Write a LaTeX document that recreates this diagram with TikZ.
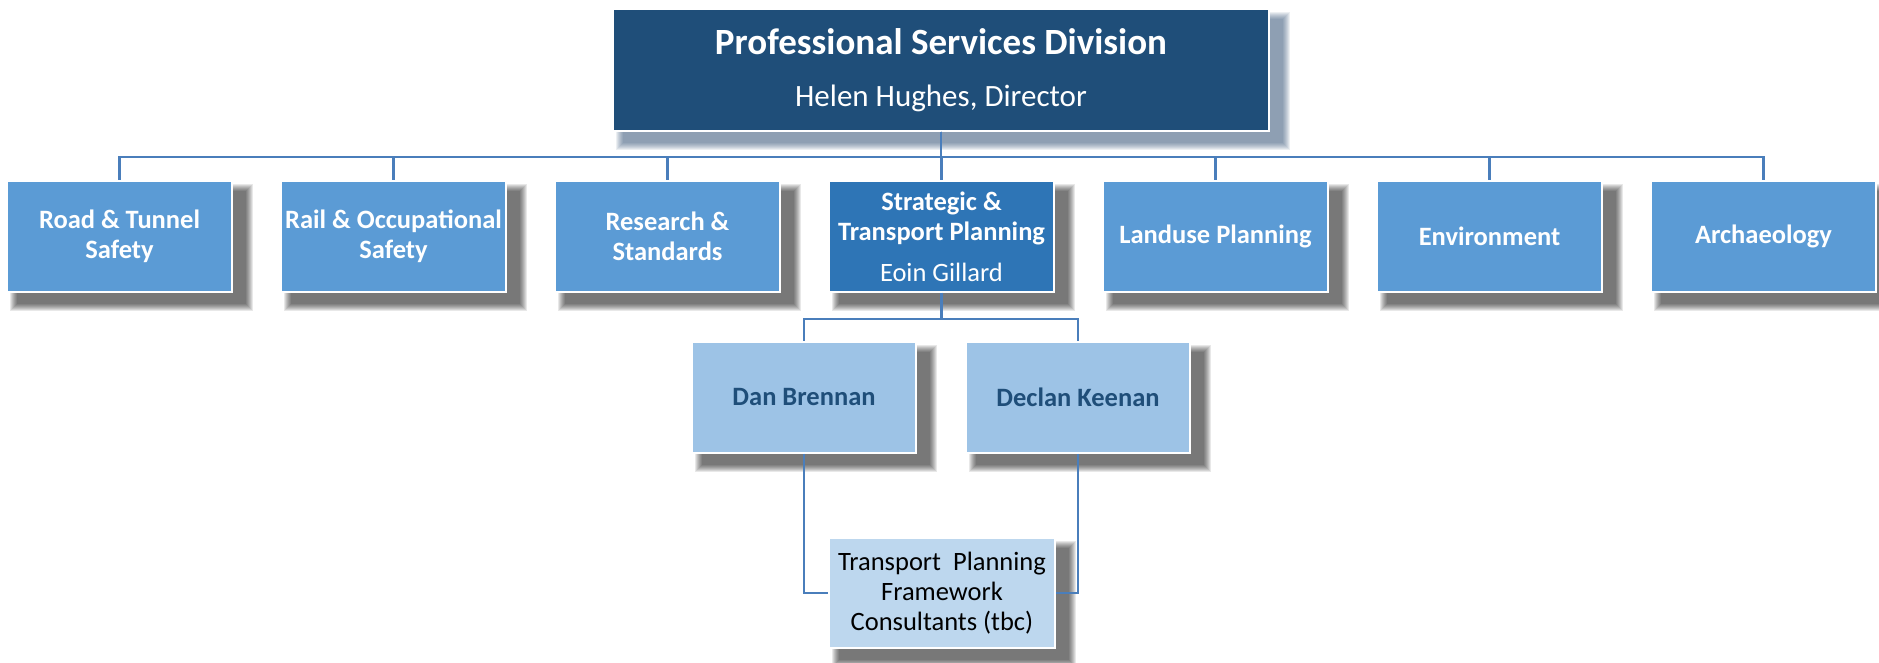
\documentclass[tikz,border=0pt]{standalone}
\usepackage{fontspec}
\setmainfont{Carlito}
\usetikzlibrary{calc}
\definecolor{topblue}{HTML}{1F4E79}
\definecolor{midblue}{HTML}{5B9BD5}
\definecolor{stratblue}{HTML}{2E75B6}
\definecolor{lightblue}{HTML}{9DC3E6}
\definecolor{paleblue}{HTML}{BDD7EE}
\definecolor{linkblue}{HTML}{4A7EBB}
\definecolor{topshadow}{HTML}{2A4A70}
\pgfdeclarelayer{bg}
\pgfsetlayers{bg,main}
\newcommand{\dropshadow}[2]{%
  \begin{pgfonlayer}{bg}
  \foreach \k in {0,...,7}{%
    \fill[#2, fill opacity=0.09]
      ($(#1.north west)+(4+\k,4+\k)$) rectangle ($(#1.south east)+(20-\k,18-\k)$);
  }
  \end{pgfonlayer}}
\tikzset{
  orgbox/.style={draw=white, line width=1.5pt, inner sep=0pt, align=center},
  topbox/.style={orgbox, fill=topblue, text=white, minimum width=656pt, minimum height=122pt,
    font=\fontsize{31}{52}\selectfont},
  deptbox/.style={orgbox, fill=midblue, text=white, minimum width=225pt, minimum height=111pt,
    font=\fontsize{26.5}{30}\selectfont\bfseries},
  stratbox/.style={deptbox, fill=stratblue},
  personbox/.style={orgbox, fill=lightblue, text=topblue, minimum width=224pt, minimum height=111pt,
    font=\fontsize{26.5}{30}\selectfont\bfseries},
  consultbox/.style={orgbox, fill=paleblue, text=black, minimum width=226pt, minimum height=110pt,
    font=\fontsize{26.5}{30}\selectfont},
  link/.style={draw=linkblue, line width=2.3pt}
}
\begin{document}
\begin{tikzpicture}[x=1pt,y=-1pt]
\useasboundingbox (0,0) rectangle (1879,663);
\node[topbox] (top) at (941,70) {{\fontsize{37}{52}\selectfont\bfseries Professional Services Division}\\
  Helen Hughes, Director};
\node[deptbox] (road) at (119.5,236.5) {Road \& Tunnel\\Safety};
\node[deptbox] (rail) at (393.5,236.5) {Rail \& Occupational\\Safety};
\node[deptbox] (research) at (667.5,236.5) {Research \&\\Standards};
\node[stratbox] (strat) at (941.5,236.5) {Strategic \&\\Transport Planning\\[11pt]{\mdseries Eoin Gillard}};
\node[deptbox] (landuse) at (1215.5,236.5) {Landuse Planning};
\node[deptbox] (env) at (1489.5,236.5) {Environment};
\node[deptbox] (arch) at (1763.5,236.5) {Archaeology};
\node[personbox] (dan) at (804,397.5) {Dan Brennan};
\node[personbox] (declan) at (1078,397.5) {Declan Keenan};
\node[consultbox] (tpf) at (942,593) {Transport\ \ Planning\\Framework\\Consultants (tbc)};
\dropshadow{top}{topshadow}
\foreach \n in {road,rail,research,strat,landuse,env,arch,dan,declan,tpf}{\dropshadow{\n}{black}}
\foreach \n in {road,rail,research,strat,landuse,env,arch}{
  \draw[link] (top.south) -- ++(0,25) -| (\n.north);
}
\draw[link] (strat.south) -- ++(0,26) -| (dan.north);
\draw[link] (strat.south) -- ++(0,26) -| (declan.north);
\draw[link] (dan.south) |- (tpf.west);
\draw[link] (declan.south) |- (tpf.east);
\end{tikzpicture}
\end{document}
